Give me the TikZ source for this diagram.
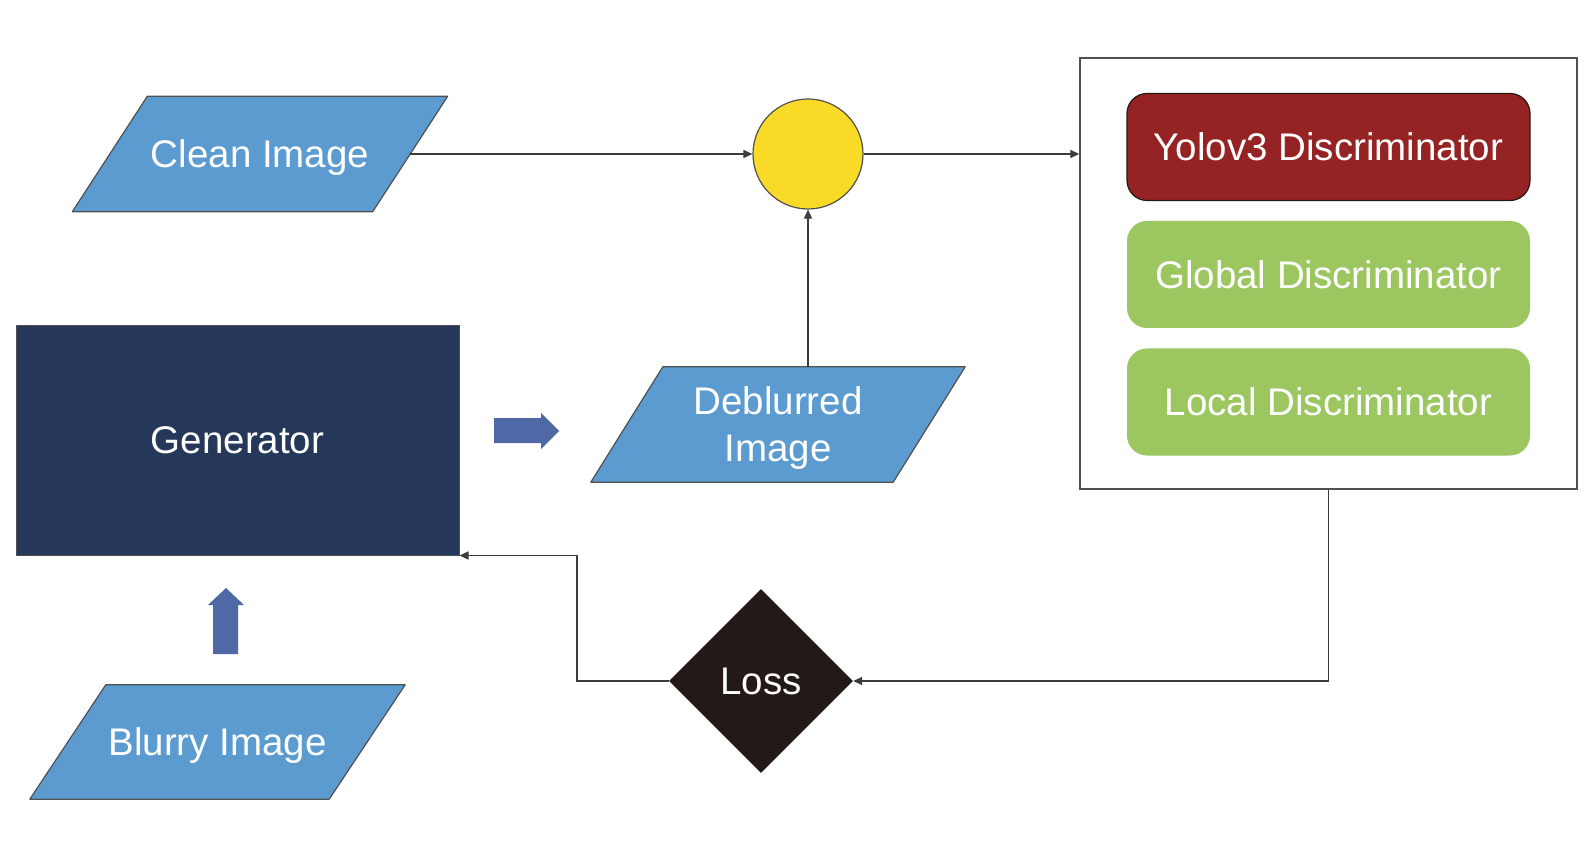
\documentclass[tikz,border=0pt]{standalone}
\usepackage{fontspec}
\setmainfont{Liberation Sans}
\usetikzlibrary{shapes.geometric,arrows.meta,backgrounds,calc}
\definecolor{parablue}{HTML}{5B9BD0}
\definecolor{genblue}{HTML}{25385A}
\definecolor{sumyellow}{HTML}{F9DB27}
\definecolor{lossblack}{HTML}{231916}
\definecolor{yolored}{HTML}{952323}
\definecolor{discgreen}{HTML}{9BC660}
\definecolor{blockblue}{HTML}{4E69A6}
\definecolor{linegray}{HTML}{3C3C3C}
\definecolor{edgegray}{HTML}{505050}
\newcommand\drawpara[2]{%
  \begin{scope}[on background layer]
    \filldraw[fill=parablue,draw=edgegray,line width=1.2pt,line join=round]
      ([xshift=#2]#1.north west) -- ([xshift=#2]#1.north east) --
      ([xshift=-#2]#1.south east) -- ([xshift=-#2]#1.south west) -- cycle;
  \end{scope}}
\begin{document}
\begin{tikzpicture}[x=1pt,y=-1pt,
  lbl/.style={font=\fontsize{38.5}{47}\selectfont, text=white, inner sep=0pt, align=center},
  parabox/.style={lbl, text depth=0pt, rectangle, minimum width=300pt, minimum height=115pt},
  discbox/.style={lbl, rectangle, rounded corners=20pt, minimum width=403pt, minimum height=107pt},
  arr/.style={draw=linegray, line width=1.4pt, -{Triangle[length=9pt,width=8pt]}},
  blockarrow/.style={fill=blockblue}]
\useasboundingbox (0,0) rectangle (1590,866);

% data nodes
\node[parabox] (clean) at (260,154) {Clean Image};
\drawpara{clean}{37.5pt}
\node[parabox, minimum width=302pt] (deblur) at (778,424.5) {Deblurred\\Image};
\drawpara{deblur}{36pt}
\node[parabox, minimum width=299pt, minimum height=114pt] (blurry) at (217.5,742) {Blurry Image};
\drawpara{blurry}{38pt}

% generator
\node[lbl, text depth=0pt, rectangle, fill=genblue, draw=edgegray, line width=1pt,
      minimum width=443pt, minimum height=229pt] (gen) at (237.5,440.5) {Generator};

% sum circle
\node[circle, fill=sumyellow, draw=edgegray, line width=1.2pt, minimum size=110pt, inner sep=0pt] (circ) at (808,154) {};

% discriminator container
\node[rectangle, draw=edgegray, line width=1.4pt, fill=white,
      minimum width=497pt, minimum height=431pt, inner sep=0pt] (dbox) at (1328.5,273.5) {};
\node[discbox, fill=yolored, draw=lossblack, line width=1.2pt] (yolo) at (1328.5,147) {Yolov3 Discriminator};
\node[discbox, fill=discgreen] (global) at (1328.5,274.5) {Global Discriminator};
\node[discbox, fill=discgreen] (local) at (1328.5,402) {Local Discriminator};

% loss
\node[lbl, diamond, aspect=1, fill=lossblack, minimum width=184pt, minimum height=184pt] (loss) at (761,681) {Loss};

% connectors
\draw[arr] (clean.east) -- (circ.west);
\draw[arr] (circ.east) -- (circ.east -| dbox.west);
\draw[arr] (deblur.north -| circ.south) -- (circ.south);
\draw[arr] (dbox.south) |- (loss.east);
\draw[arr] (loss.west) -- ++(-92,0) |- (gen.south east);

% block arrows
\fill[blockblue] (494,418) -- (541,418) -- (541,413) -- (559,431) -- (541,449) -- (541,443) -- (494,443) -- cycle;
\fill[blockblue] (213,654) -- (213,605) -- (208,605) -- (226,588) -- (244,605) -- (238,605) -- (238,654) -- cycle;
\end{tikzpicture}
\end{document}
